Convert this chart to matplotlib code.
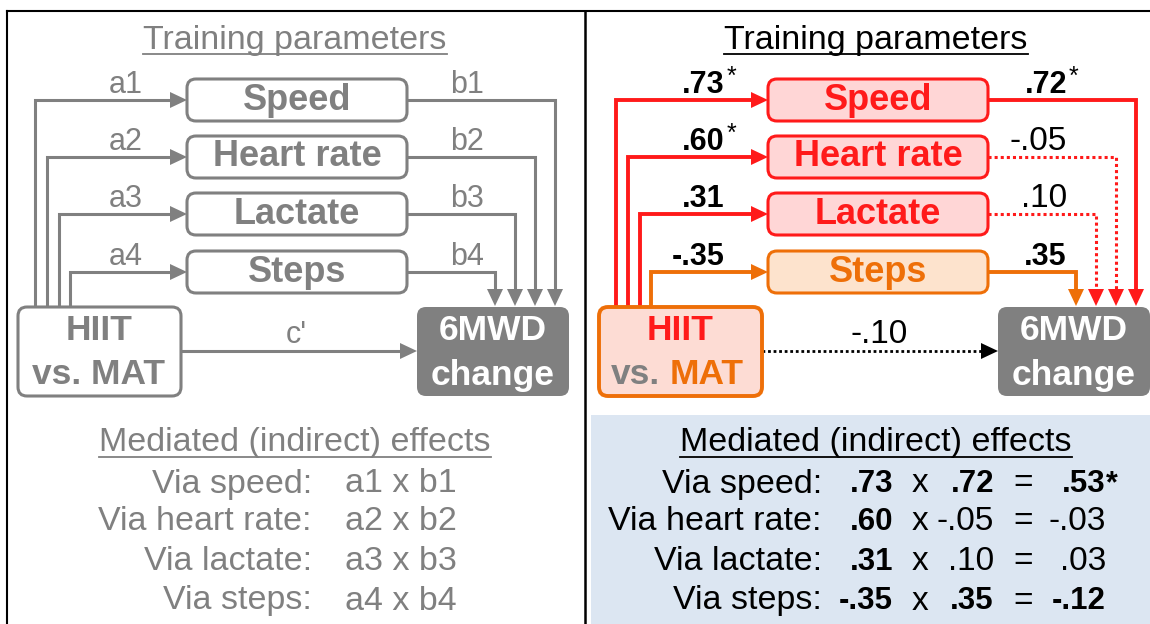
import matplotlib
matplotlib.use("Agg")
import matplotlib.pyplot as plt
from matplotlib.patches import FancyBboxPatch, Polygon, Rectangle

plt.rcParams['font.family'] = ['Liberation Sans', 'DejaVu Sans']

# data
mediators = ["Speed", "Heart rate", "Lactate", "Steps"]
a_names = ["a1", "a2", "a3", "a4"]
b_names = ["b1", "b2", "b3", "b4"]
a_vals = [".73", ".60", ".31", "-.35"]
a_star = [True, True, False, False]
b_vals = [".72", "-.05", ".10", ".35"]
b_star = [True, False, False, False]
b_bold = [True, False, False, True]
direct_val = "-.10"
row_labels = ["Via speed:", "Via heart rate:", "Via lactate:", "Via steps:"]
indirect_vals = [".53", "-.03", ".03", "-.12"]
indirect_star = [True, False, False, False]
indirect_bold = [True, False, False, True]

GRAY = "#808080"
RED = "#ff1a1a"
RED_FILL = "#ffd6d6"
ORANGE = "#ee6f08"
ORANGE_FILL = "#fde3cd"
BLUE_FILL = "#dce6f2"

fig = plt.figure(figsize=(11.5, 6.24), dpi=100)
ax = fig.add_axes([0, 0, 1, 1])
ax.set_xlim(0, 1150)
ax.set_ylim(624, 0)
ax.axis("off")

row_y = [100, 157, 214, 272]
table_y = [484, 522, 562, 601]
left_x = [35, 47, 59, 70]
right_x = [555, 535, 515, 495]
underlined = []


def head(x, y, d, color, L=17, W=16):
    if d == "right":
        pts = [(x, y), (x - L, y - W / 2), (x - L, y + W / 2)]
    else:
        pts = [(x, y), (x - W / 2, y - L), (x + W / 2, y - L)]
    ax.add_patch(Polygon(pts, closed=True, fc=color, ec="none", zorder=4))


def rbox(x0, y0, x1, y1, fc, ec, lw=2.2):
    ax.add_patch(FancyBboxPatch((x0, y0), x1 - x0, y1 - y0,
                                boxstyle="round,pad=0,rounding_size=9",
                                fc=fc, ec=ec, lw=lw, zorder=3))


def panel(ox, colored):
    tcol = "black" if colored else GRAY
    t = ax.text(ox + 295, 40, "Training parameters", ha="center", va="center",
                fontsize=24.5, color=tcol)
    underlined.append((t, tcol))
    for i, name in enumerate(mediators):
        y = row_y[i]
        if colored:
            col = ORANGE if i == 3 else RED
            fill = ORANGE_FILL if i == 3 else RED_FILL
            ls_b = "-" if b_bold[i] else (0, (1, 1))
            lw = 2.8
            lw_b = 2.8 if b_bold[i] else 2.2
        else:
            col, fill, ls_b, lw, lw_b = GRAY, "white", "-", 2.2, 2.2
        rbox(ox + 187, y - 21, ox + 407, y + 21, fill, col)
        ax.text(ox + 297, y, name, ha="center", va="center", fontsize=26,
                fontweight="bold", color=col, zorder=5)
        # a path
        ax.plot([ox + left_x[i], ox + left_x[i], ox + 170], [307, y, y],
                color=col, lw=lw, solid_joinstyle="miter", zorder=2)
        head(ox + 187, y, "right", col)
        # b path
        ax.plot([ox + 407, ox + right_x[i], ox + right_x[i]], [y, y, 290],
                color=col, lw=lw_b, ls=ls_b, solid_joinstyle="miter", zorder=2)
        head(ox + right_x[i], 306, "down", col)
        if colored:
            ta = ax.text(ox + 144, y - 7, a_vals[i], ha="right", va="baseline",
                         fontsize=22, fontweight="bold")
            if a_star[i]:
                ax.annotate("*", xy=(1, 1), xycoords=ta, xytext=(1, 4),
                            textcoords="offset points", ha="left", va="top",
                            fontsize=18)
            bw = "bold" if b_bold[i] else "normal"
            tb = ax.text(ox + 486, y - 7, b_vals[i], ha="right", va="baseline",
                         fontsize=22 if b_bold[i] else 24, fontweight=bw)
            if b_star[i]:
                ax.annotate("*", xy=(1, 1), xycoords=tb, xytext=(1, 4),
                            textcoords="offset points", ha="left", va="top",
                            fontsize=18)
        else:
            ax.text(ox + 126, y - 7, a_names[i], ha="center", va="baseline",
                    fontsize=22, color=GRAY)
            ax.text(ox + 467, y - 7, b_names[i], ha="center", va="baseline",
                    fontsize=22, color=GRAY)

    # HIIT vs MAT box
    if colored:
        rbox(ox + 18, 307, ox + 181, 396, "#fddcd4", ORANGE, lw=2.8)
        ax.text(ox + 99, 331, "HIIT", ha="center", va="center", fontsize=25.5,
                fontweight="bold", color=RED, zorder=5)
        tv = ax.text(ox + 30, 375, "vs.", ha="left", va="center", fontsize=25.5,
                     fontweight="bold", color=GRAY, zorder=5)
        ax.annotate("MAT", xy=(1, 0), xycoords=tv, xytext=(7, 0),
                    textcoords="offset points", ha="left", va="bottom",
                    fontsize=25.5, fontweight="bold", color=ORANGE, zorder=5)
    else:
        rbox(ox + 18, 307, ox + 181, 396, "white", GRAY)
        ax.text(ox + 99, 331, "HIIT", ha="center", va="center", fontsize=25.5,
                fontweight="bold", color=GRAY, zorder=5)
        ax.text(ox + 99, 375, "vs. MAT", ha="center", va="center", fontsize=25.5,
                fontweight="bold", color=GRAY, zorder=5)
    # 6MWD box
    rbox(ox + 417, 307, ox + 569, 396, GRAY, "none")
    ax.text(ox + 493, 331, "6MWD", ha="center", va="center", fontsize=25.5,
            fontweight="bold", color="white", zorder=5)
    ax.text(ox + 493, 375, "change", ha="center", va="center", fontsize=25.5,
            fontweight="bold", color="white", zorder=5)
    # direct path
    if colored:
        ax.plot([ox + 181, ox + 405], [351, 351], color="black", lw=2,
                ls=(0, (1, 1)), zorder=2)
        head(ox + 417, 351, "right", "black")
        ax.text(ox + 298, 343, direct_val, ha="center", va="baseline", fontsize=24)
    else:
        ax.plot([ox + 181, ox + 405], [351, 351], color=GRAY, lw=2.2, zorder=2)
        head(ox + 417, 351, "right", GRAY)
        ax.text(ox + 296, 343, "c'", ha="center", va="baseline", fontsize=22,
                color=GRAY)

    # mediated effects table
    t = ax.text(ox + 295, 443, "Mediated (indirect) effects", ha="center",
                va="center", fontsize=24.5, color=tcol)
    underlined.append((t, tcol))
    lab_x = ox + 241 if colored else ox + 312
    for i, lab in enumerate(row_labels):
        y = table_y[i]
        ax.text(lab_x, y, lab, ha="right", va="center", fontsize=24.5, color=tcol)
        if colored:
            ax.text(ox + 312, y, a_vals[i], ha="right", va="center", fontsize=22.5,
                    fontweight="bold")
            ax.text(ox + 339, y, "x", ha="center", va="center", fontsize=24)
            ax.text(ox + 413, y, b_vals[i], ha="right", va="center",
                    fontsize=22.5 if b_bold[i] else 24,
                    fontweight="bold" if b_bold[i] else "normal")
            ax.text(ox + 442, y, "=", ha="center", va="center", fontsize=24)
            ti = ax.text(ox + 525, y, indirect_vals[i], ha="right", va="center",
                         fontsize=22.5 if indirect_bold[i] else 24,
                         fontweight="bold" if indirect_bold[i] else "normal")
            if indirect_star[i]:
                ax.annotate("*", xy=(1, 1), xycoords=ti, xytext=(0, 0),
                            textcoords="offset points", ha="left", va="top",
                            fontsize=22, fontweight="bold")
        else:
            ax.text(ox + 345, y, a_names[i] + " x " + b_names[i], ha="left",
                    va="center", fontsize=24.5, color=GRAY)


# blue background for right table
ax.add_patch(Rectangle((591, 415), 560, 210, fc=BLUE_FILL, ec="none", zorder=0))

panel(0, False)
panel(581, True)

# frame lines
ax.plot([7, 1150], [11, 11], color="black", lw=1.5)
ax.plot([7, 7], [11, 624], color="black", lw=1.5)
ax.plot([585, 585], [11, 624], color="black", lw=1.8)

# underline titles
fig.canvas.draw()
inv = ax.transData.inverted()
for t, c in underlined:
    bb = t.get_window_extent()
    (x0, y0), (x1, y1) = inv.transform([(bb.x0, bb.y0), (bb.x1, bb.y1)])
    ax.plot([x0, x1], [y0 - 2, y0 - 2], color=c, lw=1.3)

fig.savefig("out.png", dpi=100)
